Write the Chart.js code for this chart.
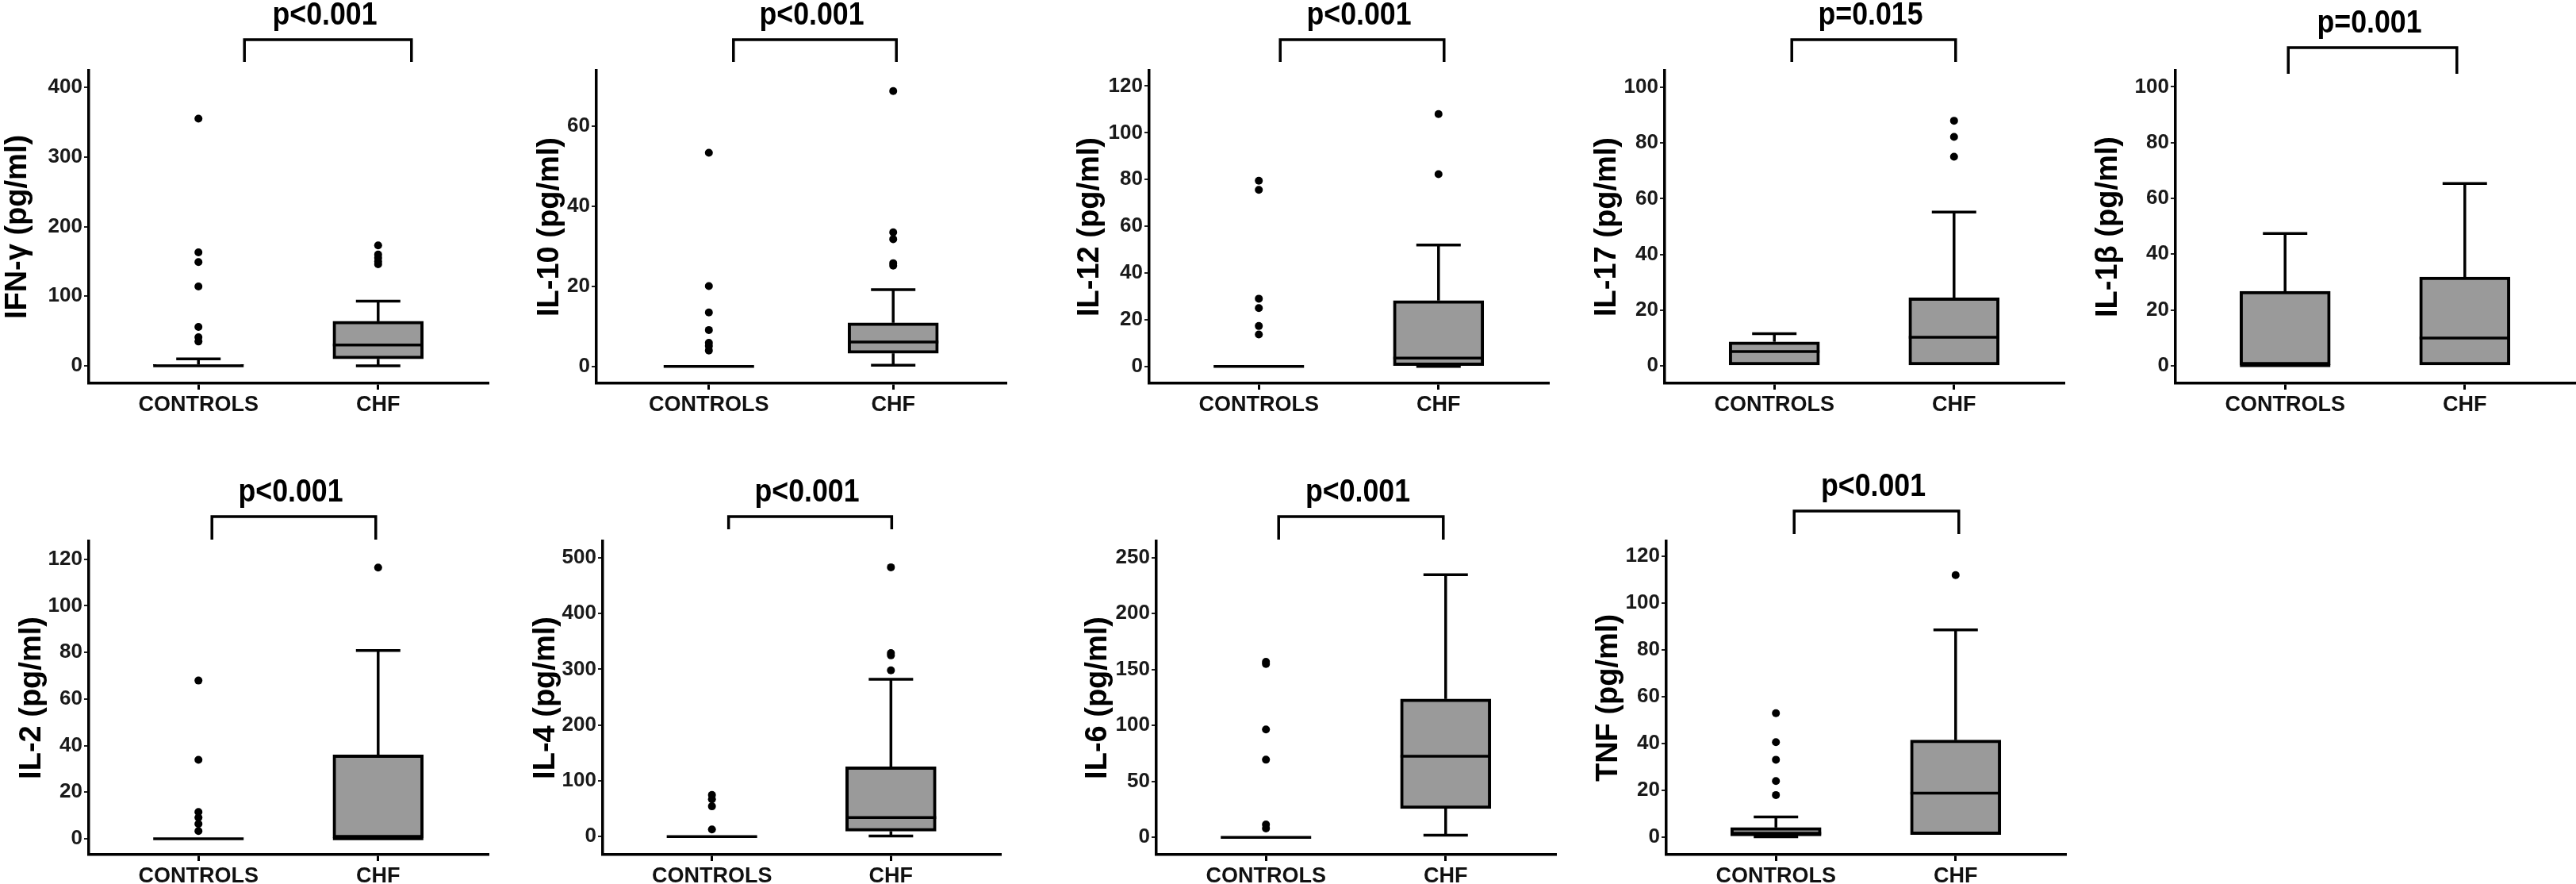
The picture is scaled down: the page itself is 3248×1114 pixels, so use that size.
<!DOCTYPE html>
<html>
<head>
<meta charset="utf-8">
<title>Cytokines – controls vs CHF</title>
<script src="https://cdn.jsdelivr.net/npm/chart.js@4.4.1/dist/chart.umd.min.js"></script>
<style>
  html, body { margin: 0; padding: 0; background: #fff; }
  #board { position: relative; width: 3248px; height: 1114px; overflow: hidden; background: #fff; }
  #board canvas { position: absolute; }
</style>
</head>
<body>
<div id="board"></div>
<script>
// ==================== DATA ====================
const GROUPS = ['CONTROLS', 'CHF'];
const CYTOKINES = ['IFN-γ', 'IL-10', 'IL-12', 'IL-17', 'IL-1β', 'IL-2', 'IL-4', 'IL-6', 'TNF'];
const P_VALUES = ['p<0.001', 'p<0.001', 'p<0.001', 'p=0.015', 'p=0.001', 'p<0.001', 'p<0.001', 'p<0.001', 'p<0.001'];

// y axis: tick labels and visible range
const Y_TICKS = [
  [0, 100, 200, 300, 400],
  [0, 20, 40, 60],
  [0, 20, 40, 60, 80, 100, 120],
  [0, 20, 40, 60, 80, 100],
  [0, 20, 40, 60, 80, 100],
  [0, 20, 40, 60, 80, 100, 120],
  [0, 100, 200, 300, 400, 500],
  [0, 50, 100, 150, 200, 250],
  [0, 20, 40, 60, 80, 100, 120]
];
const Y_MIN = [-25, -4.2, -7.2, -6.3, -6.3, -6.8, -32.5, -15.5, -7.6];
const Y_MAX = [424, 73.9, 126.6, 106, 105.8, 127.7, 529.8, 264.8, 126.5];

// box stats, each row = [CONTROLS, CHF]
const WHISK_LO = [[0, 0], [0, 0.3], [0, 0], [0, 0], [0, 0], [0, 0], [0, 1], [0, 1.8], [0, 1]];
const Q1       = [[0, 10], [0, 3.3], [0, 0.4], [0, 0], [0, 0], [0, 0], [0, 9.6], [0, 25.8], [0.4, 1]];
const MEDIAN   = [[0, 30], [0, 6.1], [0, 3.6], [5.1, 10.2], [0, 9.9], [0, 0], [0, 34], [0, 72.5], [1.6, 18.7]];
const Q3       = [[2, 64], [0, 10.9], [0, 28.2], [8.6, 24.4], [26.7, 31.8], [0, 36], [0, 125], [0, 123.7], [4, 41.4]];
const WHISK_HI = [[10, 93], [0, 19.2], [0, 52], [11.5, 55.2], [47.4, 65.3], [0, 80.8], [0, 282], [0, 234.8], [8.5, 88.6]];

const OUT_CONTROLS = [
  [355, 163, 149, 114, 56, 41, 35],
  [53.4, 20.1, 13.5, 9.1, 5.9, 5.1, 4.0],
  [79.5, 75.6, 29, 25, 17.3, 13.7],
  [],
  [],
  [67.9, 33.9, 11.5, 9.1, 6.4, 3.3],
  [74.5, 66.9, 54.2, 12.7],
  [157, 155, 96.5, 69.4, 11.4, 8],
  [52.9, 40.5, 33, 23.9, 17.9]
];
const OUT_CHF = [
  [173, 160, 155, 150, 146],
  [68.8, 33.5, 31.8, 25.8, 25.2],
  [108, 82.3],
  [88, 82.2, 75.1],
  [],
  [116.4],
  [483, 329, 325, 298],
  [],
  [112]
];

// ==================== LAYOUT (page pixels) ====================
// left: canvas left, axis: y axis x, right: x axis end, top: canvas top,
// cTop/cBot: plot area, bl/br: bracket end offsets from the groups, by/bd: bracket bar / drop y
const LAYOUT = [
  { left: 0,    axis: 112,  right: 618,  top: 0,   cTop: 89,  cBot: 483,  bl: 58, br: 42,  by: 50,  bd: 78 },
  { left: 671,  axis: 752,  right: 1271, top: 0,   cTop: 89,  cBot: 483,  bl: 31, br: 4,   by: 50,  bd: 78 },
  { left: 1352, axis: 1449, right: 1955, top: 0,   cTop: 89,  cBot: 483,  bl: 27, br: 7,   by: 50,  bd: 78 },
  { left: 2004, axis: 2099, right: 2605, top: 0,   cTop: 89,  cBot: 483,  bl: 22, br: 2,   by: 50,  bd: 78 },
  { left: 2636, axis: 2743, right: 3246, top: 0,   cTop: 89,  cBot: 483,  bl: 4,  br: -10, by: 60,  bd: 93 },
  { left: 18,   axis: 112,  right: 618,  top: 557, cTop: 682, cBot: 1077, bl: 17, br: -3,  by: 651, bd: 680 },
  { left: 666,  axis: 760,  right: 1264, top: 557, cTop: 682, cBot: 1077, bl: 21, br: 1,   by: 651, bd: 667 },
  { left: 1362, axis: 1458, right: 1964, top: 557, cTop: 682, cBot: 1077, bl: 16, br: -3,  by: 651, bd: 680 },
  { left: 2006, axis: 2101, right: 2607, top: 557, cTop: 682, cBot: 1077, bl: 23, br: 4,   by: 644, bd: 673 }
];
const PANEL_H = 557;
const BOX_W = 114;
const CAP_W = 56;
const LINE_W = 3.5;
const FONT = "'Liberation Sans', Arial, sans-serif";

// the axis titles are set in a condensed face; use the narrow family when it is installed
const hasNarrow = (() => {
  const c = document.createElement('canvas').getContext('2d');
  c.font = "bold 40px monospace";
  const a = c.measureText('IL-10 (pg/ml)').width;
  c.font = "bold 40px 'Liberation Sans Narrow', monospace";
  return Math.abs(c.measureText('IL-10 (pg/ml)').width - a) > 1;
})();
const TITLE_FONT = hasNarrow
  ? { family: "'Liberation Sans Narrow', 'Liberation Sans', Arial, sans-serif", size: 46, weight: 'bold', lineHeight: 1 }
  : { family: FONT, size: 38, weight: 'bold', lineHeight: 1.2 };

Chart.defaults.font.family = FONT;
Chart.defaults.color = '#111';

// whiskers, medians and the significance bracket, placed with the chart's own scales
const boxMarks = (k) => ({
  id: 'boxMarks' + k,
  afterDatasetsDraw(chart) {
    const { ctx, scales: { x, y } } = chart;
    ctx.save();
    ctx.strokeStyle = '#000';
    ctx.lineWidth = LINE_W;
    const line = (x1, y1, x2, y2) => { ctx.beginPath(); ctx.moveTo(x1, y1); ctx.lineTo(x2, y2); ctx.stroke(); };
    GROUPS.forEach((g, i) => {
      const cx = x.getPixelForValue(i + 1);
      if (WHISK_HI[k][i] > Q3[k][i]) {
        const yh = y.getPixelForValue(WHISK_HI[k][i]);
        line(cx, y.getPixelForValue(Q3[k][i]), cx, yh);
        line(cx - CAP_W / 2, yh, cx + CAP_W / 2, yh);
      }
      if (WHISK_LO[k][i] < Q1[k][i]) {
        const yl = y.getPixelForValue(WHISK_LO[k][i]);
        line(cx, y.getPixelForValue(Q1[k][i]), cx, yl);
        line(cx - CAP_W / 2, yl, cx + CAP_W / 2, yl);
      }
      const ym = y.getPixelForValue(MEDIAN[k][i]);
      line(cx - BOX_W / 2, ym, cx + BOX_W / 2, ym);
    });
    ctx.restore();
  },
  afterDraw(chart) {
    const { ctx, scales: { x } } = chart;
    const L = LAYOUT[k];
    const x1 = x.getPixelForValue(1) + L.bl;
    const x2 = x.getPixelForValue(2) + L.br;
    const yb = L.by - L.top, yd = L.bd - L.top;
    ctx.save();
    ctx.strokeStyle = '#000';
    ctx.lineWidth = LINE_W;
    ctx.beginPath();
    ctx.moveTo(x1, yd); ctx.lineTo(x1, yb); ctx.lineTo(x2, yb); ctx.lineTo(x2, yd);
    ctx.stroke();
    ctx.fillStyle = '#000';
    ctx.font = `bold 40px ${FONT}`;
    ctx.textAlign = 'center';
    ctx.textBaseline = 'alphabetic';
    ctx.fillText(P_VALUES[k], (x1 + x2) / 2 - 4, yb - 19, 132);
    ctx.restore();
  }
});

const board = document.getElementById('board');

CYTOKINES.forEach((name, k) => {
  const L = LAYOUT[k];
  const w = L.right - L.left + 2;
  const cv = document.createElement('canvas');
  cv.width = w; cv.height = PANEL_H;
  cv.style.left = L.left + 'px'; cv.style.top = L.top + 'px';
  cv.style.width = w + 'px'; cv.style.height = PANEL_H + 'px';
  board.appendChild(cv);

  new Chart(cv, {
    type: 'bar',
    data: {
      datasets: [
        {
          type: 'bar',
          data: GROUPS.map((g, i) => ({ x: i + 1, y: [Q1[k][i], Q3[k][i]] })),
          backgroundColor: '#9a9a9a', borderColor: '#000', borderWidth: 4,
          borderSkipped: false, barThickness: BOX_W, order: 2
        },
        {
          type: 'scatter',
          data: [
            ...OUT_CONTROLS[k].map(v => ({ x: 1, y: v })),
            ...OUT_CHF[k].map(v => ({ x: 2, y: v }))
          ],
          pointRadius: 5, pointBackgroundColor: '#000', pointBorderWidth: 0, order: 1
        }
      ]
    },
    options: {
      responsive: false, animation: false, devicePixelRatio: 1, events: [],
      layout: { padding: { top: L.cTop - L.top, right: 2, left: 0, bottom: 0 } },
      plugins: { legend: { display: false }, tooltip: { enabled: false } },
      scales: {
        x: {
          type: 'linear', min: 0.39, max: 2.61, offset: false,
          afterBuildTicks: s => { s.ticks = GROUPS.map((g, i) => ({ value: i + 1 })); },
          afterFit: s => { s.height = L.top + PANEL_H - L.cBot; },
          ticks: { callback: v => GROUPS[v - 1], font: { size: 27, weight: 'bold' }, color: '#111', padding: 3, maxRotation: 0, autoSkip: false },
          grid: { drawOnChartArea: false, offset: false, tickLength: 8, color: '#000', lineWidth: 3 },
          border: { color: '#000', width: LINE_W }
        },
        y: {
          type: 'linear', min: Y_MIN[k], max: Y_MAX[k],
          afterBuildTicks: s => { s.ticks = Y_TICKS[k].map(v => ({ value: v })); },
          afterFit: s => { s.width = L.axis - L.left; },
          ticks: { font: { size: 26, weight: 'bold' }, color: '#1a1a1a', padding: 2 },
          grid: { drawOnChartArea: false, tickLength: 6, color: '#222', lineWidth: 2 },
          border: { color: '#000', width: LINE_W },
          title: { display: true, text: name + ' (pg/ml)', font: TITLE_FONT, color: '#000', padding: 0 }
        }
      }
    },
    plugins: [boxMarks(k)]
  });
});
</script>
</body>
</html>
